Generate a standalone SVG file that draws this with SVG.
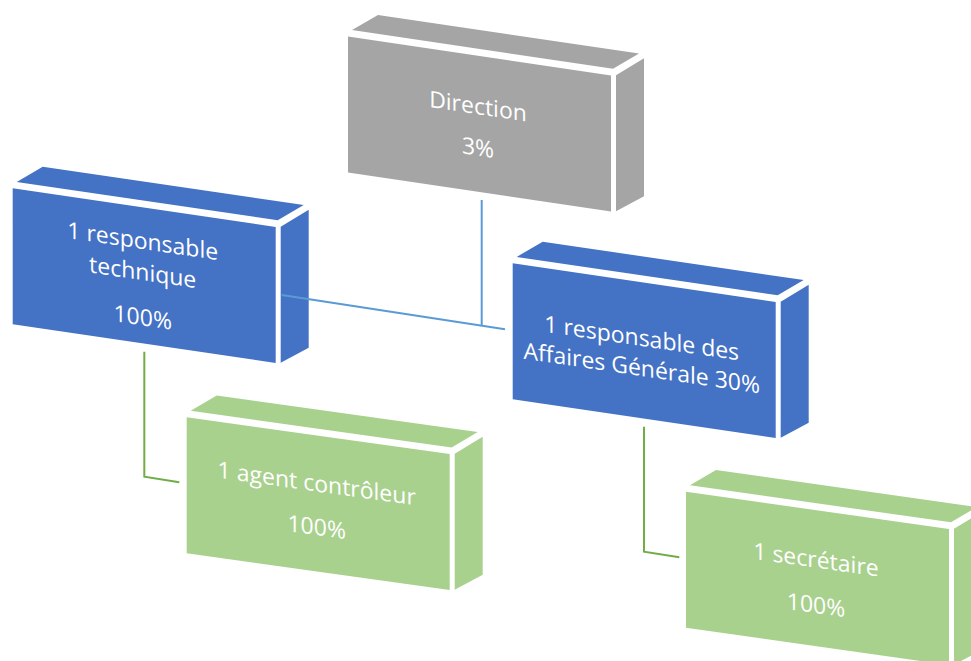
<svg xmlns="http://www.w3.org/2000/svg" xmlns:xlink="http://www.w3.org/1999/xlink" width="971" height="661" viewBox="0 0 971 661">
  <style>
    .f-gray { fill: #a5a5a5; }
    .f-blue { fill: #4472c4; }
    .f-green { fill: #a9d18e; }
    .lbl { font-family: "Open Sans", "Noto Sans", "DejaVu Sans", sans-serif; font-size: 23px; fill: #ffffff; text-anchor: middle; }
    .link-blue { fill: none; stroke: #5b9bd5; stroke-width: 2; }
    .link-green { fill: none; stroke: #70ad47; stroke-width: 2; }
  </style>
  <defs>
    <!-- Block in its own frame: front face, top face and side face, separated by white gaps -->
    <g id="block">
      <rect x="0" y="0" width="263" height="136"/>
      <polygon points="4,-7 30,-26 291,-26 265,-7"/>
      <polygon points="268,-1 296,-22 296,116 268,135"/>
    </g>
  </defs>
  <rect width="971" height="661" fill="#ffffff"/>

  <g id="direction" transform="matrix(1,0.148,0,1,348,36.5)">
    <use xlink:href="#block" class="f-gray"/>
    <text class="lbl" x="130" y="58.5">Direction</text>
    <text class="lbl" x="130" y="100">3%</text>
  </g>

  <g id="resp-technique" transform="matrix(1,0.147,0,1,12.7,188.3)">
    <use xlink:href="#block" class="f-blue"/>
    <text class="lbl" x="130" y="41.6">1 responsable</text>
    <text class="lbl" x="130" y="72.8">technique</text>
    <text class="lbl" x="130" y="118">100%</text>
  </g>

  <g id="resp-affaires" transform="matrix(1,0.147,0,1,512.7,263.3)">
    <use xlink:href="#block" class="f-blue"/>
    <text class="lbl" x="129" y="63.8">1 responsable des</text>
    <text class="lbl" x="129" y="93.8">Affaires Générale 30%</text>
  </g>

  <g id="agent-controleur" transform="matrix(1,0.14,0,1,186.7,417.3)">
    <use xlink:href="#block" class="f-green"/>
    <text class="lbl" x="130" y="56">1 agent contrôleur</text>
    <text class="lbl" x="130" y="99.5">100%</text>
  </g>

  <g id="secretaire" transform="matrix(1,0.142,0,1,686,491.7)">
    <use xlink:href="#block" class="f-green"/>
    <text class="lbl" x="130" y="57.5">1 secrétaire</text>
    <text class="lbl" x="130" y="103">100%</text>
  </g>

  <g id="connectors">
    <polyline class="link-blue" points="481.7,200 481.7,325.6"/>
    <polyline class="link-blue" points="281.7,295 505,329.3"/>
    <polyline class="link-green" points="144.3,351.7 144.3,476.7 179.3,482.3"/>
    <polyline class="link-green" points="644,426.7 644,551.7 679.3,557.3"/>
  </g>
</svg>
